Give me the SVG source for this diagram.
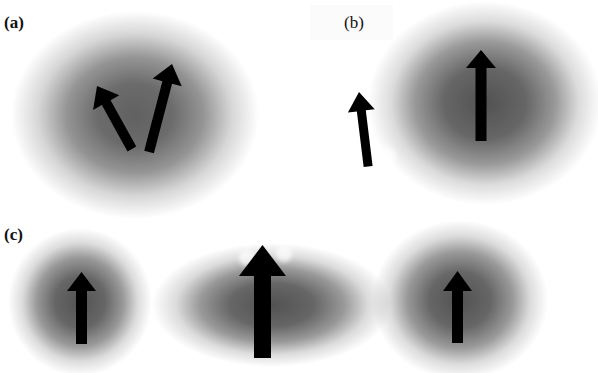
<svg xmlns="http://www.w3.org/2000/svg" width="598" height="373" viewBox="0 0 598 373">
<style>
.lbl{font-family:"Liberation Serif","Times New Roman",serif;font-size:17px;fill:#111}
.arr{fill:#000}
.spot{fill:#fff;opacity:0.7}
</style>
<defs>
<radialGradient id="blob">
<stop offset="0" stop-color="#000" stop-opacity="0.62"/>
<stop offset="0.3" stop-color="#000" stop-opacity="0.58"/>
<stop offset="0.55" stop-color="#000" stop-opacity="0.42"/>
<stop offset="0.78" stop-color="#000" stop-opacity="0.16"/>
<stop offset="1" stop-color="#000" stop-opacity="0"/>
</radialGradient>
<radialGradient id="blobD">
<stop offset="0" stop-color="#000" stop-opacity="0.68"/>
<stop offset="0.35" stop-color="#000" stop-opacity="0.6"/>
<stop offset="0.6" stop-color="#000" stop-opacity="0.4"/>
<stop offset="0.8" stop-color="#000" stop-opacity="0.14"/>
<stop offset="1" stop-color="#000" stop-opacity="0"/>
</radialGradient>
<filter id="soft" x="-50%" y="-50%" width="200%" height="200%"><feGaussianBlur stdDeviation="2"/></filter>
</defs>
<rect width="598" height="373" fill="#fff"/>

<g id="panel-a">
<ellipse cx="135" cy="115" rx="124" ry="104" fill="url(#blob)"/>
<text class="lbl" x="4" y="28" font-weight="bold">(a)</text>
</g>

<g id="panel-b">
<rect x="310" y="5" width="83" height="35" fill="#fbfbfb"/>
<ellipse cx="485" cy="103" rx="117" ry="102" fill="url(#blobD)"/>
<text class="lbl" x="344" y="28">(b)</text>
<g filter="url(#soft)">
<circle class="spot" cx="386" cy="157" r="10"/>
<circle class="spot" cx="368" cy="178" r="8"/>
</g>
</g>

<g id="panel-c">
<ellipse cx="80" cy="302" rx="72" ry="74" fill="url(#blobD)"/>
<ellipse cx="272" cy="305" rx="120" ry="62" fill="url(#blobD)"/>
<ellipse cx="460" cy="300" rx="88" ry="80" fill="url(#blobD)"/>
<text class="lbl" x="4" y="240" font-weight="bold">(c)</text>
<g filter="url(#soft)">
<circle class="spot" cx="247" cy="258" r="8"/>
<circle class="spot" cx="284" cy="254" r="8"/>
</g>
</g>

<g id="arrows">
<g transform="translate(97,86) rotate(-29)"><polygon class="arr" points="0,0 15,19 5,19 5,72 -5,72 -5,19 -15,19"/></g>
<g transform="translate(172,64) rotate(14.6)"><polygon class="arr" points="0,0 15,19 5,19 5,91 -5,91 -5,19 -15,19"/></g>
<g transform="translate(359,92) rotate(-7)"><polygon class="arr" points="0,0 13.5,19 4.5,19 4.5,75 -4.5,75 -4.5,19 -13.5,19"/></g>
<g transform="translate(481,50)"><polygon class="arr" points="0,0 15,18 5.5,18 5.5,91 -5.5,91 -5.5,18 -15,18"/></g>
<g transform="translate(81.5,272)"><polygon class="arr" points="0,0 14.5,19 5.5,19 5.5,72 -5.5,72 -5.5,19 -14.5,19"/></g>
<g transform="translate(262.5,245)"><polygon class="arr" points="0,0 23.5,31 8.5,31 8.5,113 -8.5,113 -8.5,31 -23.5,31"/></g>
<g transform="translate(457.5,271)"><polygon class="arr" points="0,0 14.5,20 5.5,20 5.5,72 -5.5,72 -5.5,20 -14.5,20"/></g>
</g>
</svg>
